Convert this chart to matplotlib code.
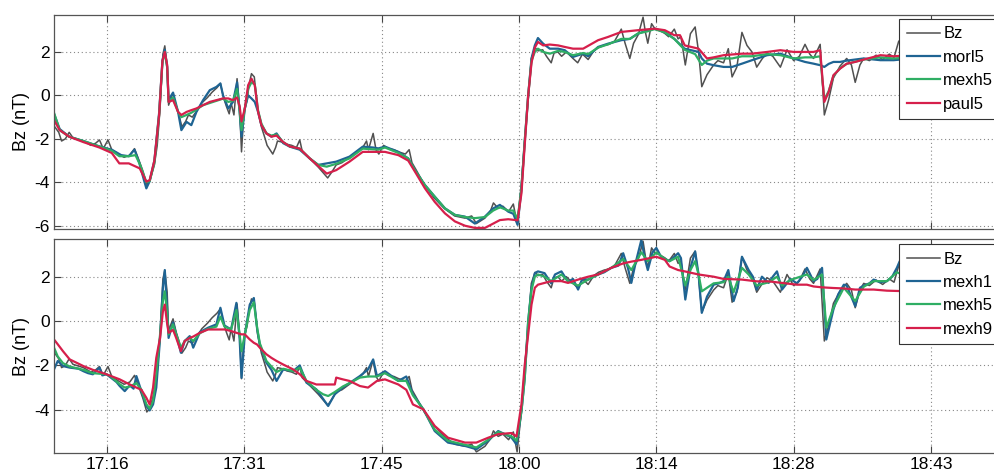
import matplotlib
matplotlib.use('Agg')
import matplotlib.pyplot as plt

plt.rcParams['font.family'] = ['Liberation Sans', 'DejaVu Sans']
plt.rcParams['font.size'] = 12
plt.rcParams['axes.unicode_minus'] = False

# time axis: minutes after 17:00
tick_pos = [16, 30.5, 45, 59.5, 74, 88.5, 103]
tick_lab = ['17:16', '17:31', '17:45', '18:00', '18:14', '18:28', '18:43']

# raw Bz (nT)
t_bz = [10.4, 10.9, 11.2, 11.6, 12.0, 12.4, 13.5, 14.3, 14.8, 15.2, 15.6, 16.1, 16.5, 17.2, 17.8,
        18.4, 18.9, 19.3, 19.8, 20.2, 20.5, 21.0, 21.3, 21.6, 21.9, 22.1, 22.35, 22.5, 22.7, 22.97,
        23.3, 23.6, 23.9, 24.3, 24.6, 25.0, 25.5, 26.0, 26.6, 27.1, 27.6, 27.97, 28.3, 28.6, 28.9,
        29.1, 29.4, 29.73, 30.0, 30.2, 30.45, 30.8, 31.0, 31.25, 31.55, 31.9, 32.3, 32.7, 32.9, 33.2,
        33.5, 33.8, 34.0, 34.5, 35.0, 35.5, 36.0, 36.35, 36.6, 37.4, 38.3, 38.9, 39.3, 39.7, 40.2,
        40.8, 41.6, 42.4, 43.0, 43.4, 43.6, 44.1, 44.4, 44.7, 45.2, 45.7, 46.3, 46.8, 47.5, 47.9,
        48.2, 48.6, 49.5, 50.5, 51.6, 52.7, 53.8, 54.5, 55.0, 55.9, 56.5, 56.8, 57.3, 57.8, 58.4,
        58.9, 59.3, 59.7, 60.1, 60.5, 60.8, 61.2, 61.5, 62.0, 62.4, 62.9, 63.2, 63.6, 64.0, 64.5,
        65.2, 65.7, 66.2, 66.8, 67.4, 67.9, 68.5, 69.0, 69.6, 70.3, 70.7, 71.2, 71.6, 72.1, 72.6,
        72.85, 73.1, 73.5, 73.8, 74.3, 74.9, 75.3, 75.9, 76.3, 76.6, 77.06, 77.6, 78.1, 78.46, 78.8,
        79.35, 80.05, 80.5, 81.1, 81.6, 82.0, 82.5, 83.04, 83.57, 84.1, 84.6, 85.2, 85.7, 86.3, 87.1,
        87.8, 88.5, 89.1, 89.7, 90.2, 90.6, 91.3, 91.74, 92.2, 92.7, 93.4, 94.1, 94.6, 95.0, 95.5,
        95.9, 96.5, 97.2, 97.9, 98.6, 99.1, 99.6, 100.5, 102, 104, 106, 108, 111]
bz = [-1.4, -1.7, -2.1, -2.0, -1.7, -1.95, -2.1, -2.3, -2.2, -2.05, -2.45, -2.05, -2.5, -2.7, -2.85,
      -2.75, -2.45, -2.9, -3.5, -4.1, -3.95, -3.2, -2.3, -0.6, 1.9, 2.28, 1.3, -0.45, -0.2, 0.1,
      -0.5, -0.9, -1.45, -1.2, -0.9, -1.0, -0.7, -0.35, -0.1, 0.15, 0.35, 0.55, -0.1, -0.5, -0.85,
      -0.35, -0.9, 0.77, -0.6, -2.6, -0.8, -0.2, 0.5, 1.0, 0.85, -0.6, -1.45, -2.0, -2.3, -2.5,
      -2.7, -2.4, -2.1, -2.15, -2.25, -2.3, -2.4, -2.05, -2.55, -2.9, -3.3, -3.6, -3.8, -3.55, -3.2,
      -3.1, -2.85, -2.6, -2.4, -2.1, -2.5, -1.75, -2.5, -2.7, -2.3, -2.45, -2.5, -2.6, -2.7, -2.5,
      -3.1, -3.4, -4.1, -4.7, -5.2, -5.55, -5.65, -5.55, -5.9, -5.65, -5.3, -4.95, -5.2, -5.1, -5.35,
      -5.0, -5.9, -4.3, -2.1, 0.0, 1.7, 2.2, 2.05, 2.1, 1.8, 1.5, 1.95, 2.0, 1.8, 2.0,
      1.7, 1.5, 1.9, 1.65, 2.05, 2.2, 2.3, 2.35, 2.5, 3.05, 2.4, 1.7, 2.4, 2.8, 3.6,
      2.9, 2.4, 3.3, 3.1, 3.0, 2.85, 2.7, 3.05, 2.6, 2.7, 1.4, 2.84, 3.15, 2.0, 0.4,
      0.95, 1.4, 1.6, 1.5, 2.15, 0.85, 1.3, 2.9, 2.3, 2.0, 1.3, 1.7, 1.95, 1.8, 1.3,
      2.1, 1.6, 1.8, 2.35, 1.9, 1.7, 2.35, -0.9, -0.2, 0.8, 1.35, 1.7, 1.4, 0.6, 1.4,
      1.7, 1.6, 1.85, 1.65, 1.9, 1.75, 2.5, 1.8, 1.9, 1.8, 1.9, 2.0, 2.0]

# upper panel reconstructions
t_morl5 = [10.4, 11.0, 12.0, 13.5, 15.2, 16.5, 17.5, 18.3, 18.9, 19.4, 19.9, 20.15, 20.5, 21.0, 21.5,
           21.85, 22.1, 22.35, 22.5, 22.97, 23.5, 23.85, 24.4, 24.9, 25.44, 26.14, 26.85, 27.55, 27.97,
           28.25, 28.8, 29.3, 29.73, 30.0, 30.2, 30.55, 30.9, 31.25, 31.6, 31.95, 32.3, 32.83, 33.36,
           33.9, 34.6, 35.3, 36.35, 37.4, 38.3, 39.2, 40.2, 41.6, 43.0, 44.1, 44.65, 45.35, 46.76, 47.8,
           48.5, 49.57, 50.6, 51.68, 52.73, 53.8, 54.84, 55.9, 56.78, 57.48, 58.36, 58.9, 59.35, 59.76,
           60.1, 60.47, 60.82, 61.17, 61.5, 62.05, 62.75, 63.63, 64.33, 65.2, 66.27, 66.8, 67.85, 68.9,
           70.3, 71.2, 72.06, 73.1, 73.8, 74.9, 75.9, 76.98, 78.46, 78.8, 79.35, 80.05, 81.1, 82.0,
           83.04, 84.1, 85.7, 87.1, 88.5, 89.7, 90.6, 91.3, 91.74, 92.2, 92.7, 93.4, 94.1, 95.9, 97.66,
           99.06, 101, 104, 108, 111]
morl5 = [-0.85, -1.55, -1.9, -2.1, -2.35, -2.5, -2.75, -2.8, -2.5, -3.1, -3.9, -4.28, -3.95, -3.0, -0.8,
         1.6, 2.1, 1.3, -0.2, 0.13, -0.76, -1.6, -1.22, -1.37, -0.76, -0.22, 0.24, 0.39, 0.55,
         0.0, -0.6, -0.3, 0.6, -0.76, -1.9, -0.6, 0.0, -0.14, -0.3, -0.76, -1.37, -1.75, -1.9,
         -1.75, -2.2, -2.36, -2.5, -2.9, -3.2, -3.13, -3.05, -2.82, -2.36, -2.4, -2.44, -2.36, -2.6, -2.9,
         -3.44, -4.13, -4.66, -5.2, -5.5, -5.58, -5.9, -5.58, -5.2, -5.04, -5.35, -5.45, -5.96, -4.28,
         -2.13, 0.0, 1.7, 2.3, 2.64, 2.38, 2.15, 2.15, 2.08, 1.77, 1.92, 1.8, 2.23, 2.38,
         2.54, 2.6, 2.84, 3.0, 3.07, 2.92, 2.6, 2.15, 2.0, 1.7, 1.46, 1.39, 1.31, 1.31,
         1.46, 1.62, 1.85, 1.92, 1.7, 1.54, 1.46, 1.39, 1.31, 1.45, 1.54, 1.54, 1.6, 1.7, 1.62,
         1.62, 1.7, 1.75, 1.8, 1.8]

t_mexh5a = [10.4, 11.0, 12.0, 13.5, 15.2, 16.5, 17.3, 18.3, 19.0, 19.5, 20.15, 20.5, 21.0, 21.5, 21.85,
            22.1, 22.35, 22.5, 22.97, 23.5, 23.85, 24.4, 24.9, 25.44, 26.14, 26.85, 27.55, 28.25, 28.8,
            29.3, 29.73, 30.0, 30.2, 30.55, 30.9, 31.25, 31.6, 31.95, 32.3, 32.83, 33.36, 33.9, 34.6,
            35.3, 36.35, 37.4, 38.3, 39.2, 40.2, 41.6, 43.0, 44.65, 45.35, 46.76, 47.8, 48.5, 49.57,
            50.6, 51.68, 52.73, 53.8, 54.84, 55.9, 56.78, 57.48, 58.36, 58.9, 59.35, 59.76, 60.1, 60.47,
            60.82, 61.17, 61.5, 62.05, 62.75, 63.63, 64.33, 65.2, 66.27, 66.8, 67.85, 68.9, 70.3, 71.2,
            72.06, 73.1, 73.8, 74.9, 75.9, 76.98, 78.1, 78.8, 79.35, 80.05, 81.1, 82.0, 83.04, 84.1,
            85.7, 87.1, 88.5, 89.7, 90.6, 91.3, 91.74, 92.2, 92.7, 93.4, 94.1, 95.9, 97.66, 99.06,
            101, 104, 108, 111]
mexh5a = [-0.8, -1.6, -1.9, -2.1, -2.35, -2.55, -2.8, -2.8, -2.75, -3.2, -4.0, -3.95, -3.1, -0.9, 1.5,
          2.0, 1.3, -0.3, -0.1, -0.76, -1.0, -0.9, -0.8, -0.65, -0.45, -0.35, -0.25, -0.15, -0.3,
          -0.25, 0.3, -0.7, -1.6, -0.6, 0.3, 0.6, 0.5, -0.7, -1.3, -1.75, -1.85, -1.8, -2.15,
          -2.35, -2.45, -2.9, -3.2, -3.28, -3.15, -2.9, -2.45, -2.5, -2.4, -2.65, -2.9, -3.44, -4.13,
          -4.66, -5.2, -5.5, -5.6, -5.65, -5.6, -5.3, -5.15, -5.3, -5.3, -5.7, -4.28, -2.13, 0.0,
          1.6, 2.0, 2.15, 2.0, 1.92, 2.05, 2.0, 1.85, 1.95, 1.9, 2.2, 2.35, 2.6, 2.6,
          2.85, 2.95, 3.05, 2.9, 2.6, 2.1, 1.9, 1.4, 1.6, 1.7, 1.7, 1.7, 1.8, 1.8,
          1.9, 1.85, 1.7, 1.75, 1.75, 1.8, -0.2, 0.2, 0.9, 1.25, 1.45, 1.65, 1.75, 1.7,
          1.75, 1.8, 1.85, 1.85]

t_paul5 = [10.4, 11.0, 12.0, 13.5, 15.2, 16.5, 17.3, 18.3, 19.45, 20.15, 20.5, 21.0, 21.5, 21.85, 22.1,
           22.35, 22.5, 22.97, 23.5, 23.85, 24.4, 24.9, 25.44, 26.14, 26.85, 27.55, 28.25, 28.8, 29.3,
           29.73, 30.0, 30.2, 30.55, 30.9, 31.25, 31.6, 31.95, 32.3, 32.83, 33.36, 33.9, 34.6, 35.3,
           36.35, 37.4, 38.3, 39.2, 40.2, 41.6, 43.0, 44.65, 45.35, 46.76, 47.8, 48.5, 49.57, 50.6,
           51.68, 52.73, 53.8, 54.84, 55.9, 56.78, 57.48, 58.36, 59.35, 59.76, 60.1, 60.47, 60.82, 61.17,
           61.5, 62.05, 62.75, 63.63, 64.33, 65.2, 66.27, 67.85, 68.9, 70.3, 72.06, 73.8, 74.9, 75.9,
           76.5, 77.0, 78.46, 79.35, 80.05, 81.1, 83.04, 84.1, 85.7, 87.1, 88.5, 89.7, 90.6, 91.3,
           91.74, 92.2, 92.7, 93.4, 94.1, 95.0, 95.9, 97.66, 99.06, 101, 104, 108, 111]
paul5 = [-1.14, -1.6, -1.9, -2.15, -2.4, -2.65, -3.13, -3.13, -3.36, -3.97, -3.9, -3.0, -0.9, 1.6, 2.0,
         1.4, -0.3, -0.22, -0.76, -0.9, -0.76, -0.68, -0.6, -0.45, -0.3, -0.22, -0.14, -0.14, -0.22,
         -0.1, -0.5, -1.2, -0.6, 0.47, 0.77, 0.47, -0.76, -1.37, -1.75, -1.9, -1.85, -2.15, -2.35,
         -2.45, -2.9, -3.25, -3.6, -3.44, -3.05, -2.6, -2.6, -2.6, -2.75, -3.0, -3.5, -4.28, -4.9,
         -5.43, -5.8, -6.0, -6.1, -6.1, -5.9, -5.74, -5.7, -5.75, -4.5, -2.3, 0.0, 1.5, 2.2,
         2.46, 2.3, 2.34, 2.3, 2.23, 2.15, 2.15, 2.54, 2.69, 2.92, 3.0, 3.07, 3.0, 2.77,
         2.77, 2.3, 2.15, 1.7, 1.75, 1.85, 1.92, 1.92, 2.0, 2.08, 2.0, 2.0, 2.0, 2.08,
         -0.3, 0.16, 0.93, 1.23, 1.46, 1.54, 1.65, 1.85, 1.8, 1.85, 1.9, 1.95, 1.95]

# lower panel: mexican hat at scales 1, 5, 9
t_mexh1 = [10.4, 10.8, 11.35, 12.06, 13.0, 13.5, 14.0, 14.5, 15.2, 15.5, 15.93, 16.4, 17.0, 17.34, 17.87,
           18.4, 18.8, 19.1, 19.63, 20.15, 20.5, 20.86, 21.2, 21.56, 21.9, 22.1, 22.34, 22.5, 22.97,
           23.3, 23.8, 24.2, 24.73, 25.1, 25.8, 26.67, 27.55, 27.97, 28.4, 29.1, 29.66, 30.0, 30.2,
           30.55, 31.07, 31.5, 31.85, 32.13, 32.83, 33.36, 33.9, 34.6, 35.65, 36.35, 37.06, 38.1, 38.8,
           39.35, 40.05, 40.9, 41.6, 42.7, 43.56, 44.1, 44.5, 45.35, 46.76, 47.6, 48.3, 49.4, 50.6,
           52.0, 53.8, 55.0, 56.25, 57.3, 58.0, 58.7, 59.24, 59.76, 60.1, 60.47, 60.82, 61.17, 61.5,
           62.2, 62.9, 63.3, 63.98, 64.68, 65.2, 65.74, 66.2, 66.8, 67.85, 68.5, 69.25, 70.0, 70.5,
           71.0, 71.36, 71.8, 72.42, 72.8, 73.1, 73.6, 74.0, 74.5, 74.9, 75.4, 76.3, 76.6, 77.06,
           77.6, 78.1, 78.46, 78.8, 79.35, 80.05, 80.6, 81.1, 81.6, 82.16, 82.6, 83.04, 83.75, 84.2,
           84.6, 85.15, 85.86, 86.3, 86.74, 87.27, 88.15, 88.85, 89.4, 89.9, 90.6, 91.0, 91.5, 91.95,
           92.7, 93.2, 93.8, 94.1, 95.0, 95.5, 95.9, 96.5, 96.95, 97.6, 98.35, 98.9, 99.4, 99.7,
           100.5, 102, 105, 108, 111]
mexh1 = [-2.18, -1.8, -2.03, -2.1, -2.15, -2.26, -2.35, -2.4, -2.1, -2.45, -2.4, -2.55, -2.75, -2.93, -3.16,
         -2.9, -3.05, -2.48, -3.16, -3.83, -4.03, -3.76, -3.0, -1.0, 1.5, 2.3, 0.6, -0.76, -0.06,
         -0.6, -1.43, -0.9, -0.68, -1.2, -0.5, -0.3, -0.15, 0.6, -0.2, -0.38, 0.82, -0.8, -2.56,
         -0.6, 0.74, 1.04, -0.36, -1.06, -1.88, -2.2, -2.7, -2.18, -2.26, -2.0, -2.78, -3.08, -3.5,
         -3.83, -3.3, -3.0, -2.8, -2.48, -2.18, -1.73, -2.48, -2.26, -2.7, -2.5, -3.3, -3.98, -4.96,
         -5.48, -5.63, -5.78, -5.4, -4.96, -5.1, -5.25, -5.56, -4.06, -2.6, 0.0, 1.5, 2.16, 2.24,
         2.16, 1.7, 2.1, 2.24, 1.77, 1.9, 1.42, 1.9, 1.87, 2.1, 2.2, 2.4, 2.5, 3.06,
         2.4, 1.72, 2.6, 3.66, 2.8, 2.3, 3.1, 3.3, 2.9, 2.8, 2.7, 3.06, 2.84, 0.97,
         2.4, 3.14, 2.1, 0.37, 1.1, 1.64, 1.7, 1.8, 2.3, 0.9, 1.5, 2.9, 2.3, 2.0,
         1.42, 2.0, 1.72, 2.0, 2.24, 1.42, 1.9, 1.7, 2.0, 2.4, 1.8, 1.9, 2.4, -0.83,
         0.52, 1.2, 1.64, 1.6, 0.67, 1.5, 1.6, 1.7, 1.87, 1.75, 1.8, 2.0, 2.4, 2.7,
         2.0, 1.8, 1.7, 1.8, 1.7]

t_mexh5b = [10.4, 10.8, 11.35, 12.06, 13.5, 14.5, 15.93, 16.4, 17.34, 17.87, 18.4, 19.1, 19.63, 20.15,
            20.5, 20.86, 21.2, 21.56, 21.9, 22.1, 22.34, 22.5, 22.97, 23.3, 23.8, 24.2, 24.73, 25.1,
            25.8, 26.67, 27.55, 27.97, 28.4, 29.1, 29.66, 30.0, 30.2, 30.55, 31.07, 31.5, 31.85, 32.13,
            32.83, 33.36, 33.9, 34.6, 35.65, 36.35, 37.06, 38.1, 38.8, 39.35, 40.05, 40.9, 41.6, 42.7,
            43.56, 44.5, 45.35, 46.76, 47.6, 48.3, 49.4, 50.6, 52.0, 53.8, 55.0, 56.25, 57.3, 58.7,
            59.24, 59.76, 60.1, 60.47, 60.82, 61.17, 61.5, 62.2, 62.9, 63.98, 64.68, 65.74, 66.8, 67.85,
            69.25, 70.5, 71.36, 72.42, 73.1, 74.0, 74.9, 75.4, 76.3, 77.06, 77.6, 78.1, 78.46, 78.8,
            79.35, 80.05, 81.1, 81.6, 82.16, 83.04, 83.75, 84.6, 85.86, 86.74, 87.27, 88.15, 89.9, 90.6,
            91.5, 91.95, 92.7, 93.8, 95.0, 95.9, 96.95, 98.35, 99.4, 100.5, 104, 108, 111]
mexh5b = [-1.2, -1.6, -1.9, -2.05, -2.2, -2.35, -2.4, -2.5, -2.85, -3.0, -2.95, -2.8, -3.1, -3.75,
          -3.95, -3.6, -2.4, -0.8, 0.9, 1.34, 0.4, -0.6, -0.15, -0.6, -1.2, -0.9, -0.75, -0.9,
          -0.55, -0.35, -0.25, 0.2, -0.25, -0.38, 0.5, -0.6, -1.36, -0.6, 0.5, 0.85, -0.3, -1.0,
          -1.8, -2.05, -2.3, -2.15, -2.26, -2.1, -2.7, -3.1, -3.3, -3.38, -3.2, -2.95, -2.8, -2.55,
          -2.5, -2.5, -2.35, -2.7, -2.7, -3.35, -3.98, -4.9, -5.4, -5.58, -5.7, -5.35, -5.0, -5.2,
          -5.4, -4.06, -2.6, 0.0, 1.4, 2.0, 2.1, 2.0, 1.8, 2.1, 1.8, 1.6, 1.87, 2.1,
          2.4, 2.8, 2.3, 3.1, 2.7, 3.1, 2.8, 2.7, 2.9, 1.6, 2.3, 2.7, 2.1, 1.34,
          1.5, 1.7, 1.75, 2.0, 1.3, 2.4, 2.1, 1.6, 1.75, 2.0, 1.6, 1.85, 2.1, 1.85,
          2.1, -0.3, 0.6, 1.5, 0.9, 1.55, 1.8, 1.8, 2.2, 2.0, 1.75, 1.75, 1.7]

t_mexh9 = [10.4, 10.8, 11.35, 12.06, 13.5, 14.5, 15.93, 17.34, 18.4, 19.1, 19.63, 20.15, 20.5, 20.86,
           21.2, 21.4, 21.6, 21.9, 22.1, 22.34, 22.5, 22.97, 23.3, 23.8, 24.2, 24.73, 25.1, 25.8,
           26.67, 27.55, 28.4, 29.1, 29.66, 30.2, 30.55, 31.07, 31.5, 31.85, 32.13, 32.83, 33.36, 33.9,
           34.6, 35.65, 36.35, 37.06, 38.1, 39.35, 40.05, 40.2, 40.9, 41.6, 42.7, 43.56, 44.5, 45.35,
           46.76, 47.6, 48.3, 49.4, 50.6, 52.0, 53.8, 55.0, 56.25, 57.3, 58.7, 59.24, 59.76, 60.1,
           60.47, 60.82, 61.17, 61.5, 62.2, 62.9, 63.98, 64.68, 65.74, 66.8, 67.85, 69.25, 70.5, 71.36,
           72.42, 74.0, 74.9, 75.4, 76.3, 77.0, 78.46, 80.05, 81.1, 83.04, 84.6, 85.86, 87.27, 88.85,
           89.9, 90.6, 91.5, 92.7, 93.8, 95.0, 96.95, 98.35, 100, 104, 108, 111]
mexh9 = [-0.83, -1.05, -1.36, -1.73, -2.03, -2.2, -2.4, -2.63, -2.86, -3.0, -3.1, -3.46, -3.76, -3.0,
         -1.66, -1.2, -0.76, 0.44, 0.74, -0.1, -0.53, -0.4, -0.76, -1.36, -0.9, -0.76, -0.7, -0.53,
         -0.38, -0.38, -0.38, -0.45, -0.53, -0.6, -0.6, -0.83, -0.98, -1.06, -1.2, -1.5, -1.66, -1.8,
         -1.96, -2.18, -2.4, -2.7, -2.86, -2.86, -2.86, -2.55, -2.63, -2.7, -2.93, -3.0, -2.7, -2.63,
         -2.86, -3.1, -3.76, -3.98, -4.73, -5.26, -5.48, -5.48, -5.26, -5.1, -5.05, -5.2, -3.75, -2.0,
         -0.6, 0.74, 1.5, 1.64, 1.72, 1.8, 1.8, 1.72, 1.87, 2.0, 2.1, 2.4, 2.6, 2.68,
         2.76, 2.9, 2.76, 2.46, 2.3, 2.24, 2.1, 2.0, 1.9, 1.87, 1.79, 1.79, 1.72, 1.64,
         1.64, 1.56, 1.52, 1.49, 1.47, 1.42, 1.42, 1.37, 1.35, 1.3, 1.3, 1.3]

c_bz = '#505050'
c_blue = '#1f6493'
c_green = '#2fae64'
c_red = '#d61f4b'

W, H = 994, 472
fig = plt.figure(figsize=(W / 100, H / 100), dpi=100)
ax1 = fig.add_axes([54 / W, 1 - 229 / H, 948 / W, 214 / H])
ax2 = fig.add_axes([54 / W, 1 - 453 / H, 948 / W, 214 / H])

ax1.plot(t_bz, bz, color=c_bz, lw=1.1, label='Bz')
ax1.plot(t_morl5, morl5, color=c_blue, lw=1.6, label='morl5')
ax1.plot(t_mexh5a, mexh5a, color=c_green, lw=1.6, label='mexh5')
ax1.plot(t_paul5, paul5, color=c_red, lw=1.6, label='paul5')

ax2.plot(t_bz, bz, color=c_bz, lw=1.1, label='Bz')
ax2.plot(t_mexh1, mexh1, color=c_blue, lw=1.6, label='mexh1')
ax2.plot(t_mexh5b, mexh5b, color=c_green, lw=1.6, label='mexh5')
ax2.plot(t_mexh9, mexh9, color=c_red, lw=1.6, label='mexh9')

ax1.set_ylim(-6.15, 3.7)
ax1.set_yticks([-6, -4, -2, 0, 2])
ax2.set_ylim(-5.95, 3.7)
ax2.set_yticks([-4, -2, 0, 2])

for ax in (ax1, ax2):
    ax.set_xlim(10.4, 110.5)
    ax.set_xticks(tick_pos)
    ax.set_ylabel('Bz (nT)', labelpad=3, fontsize=13)
    ax.grid(True, linestyle=(0, (1, 2.5)), color='#888888', lw=0.8)
    ax.tick_params(direction='in', top=True, right=True, length=5, pad=3,
                   color='#444444', labelsize=12.5)
    for s in ax.spines.values():
        s.set_color('#555555')
        s.set_linewidth(0.9)
ax1.set_xticklabels([])
ax2.set_xticklabels(tick_lab)

for ax, top in ((ax1, 19), (ax2, 244)):
    leg = ax.legend(loc='upper left', bbox_to_anchor=(899 / W, 1 - top / H),
                    bbox_transform=fig.transFigure, fancybox=False, framealpha=1,
                    edgecolor='#333333', handlelength=2.0, handletextpad=0.2,
                    labelspacing=0.5, borderpad=0.45, borderaxespad=0)
    leg.get_frame().set_linewidth(0.8)

fig.savefig('out.png', dpi=100)
